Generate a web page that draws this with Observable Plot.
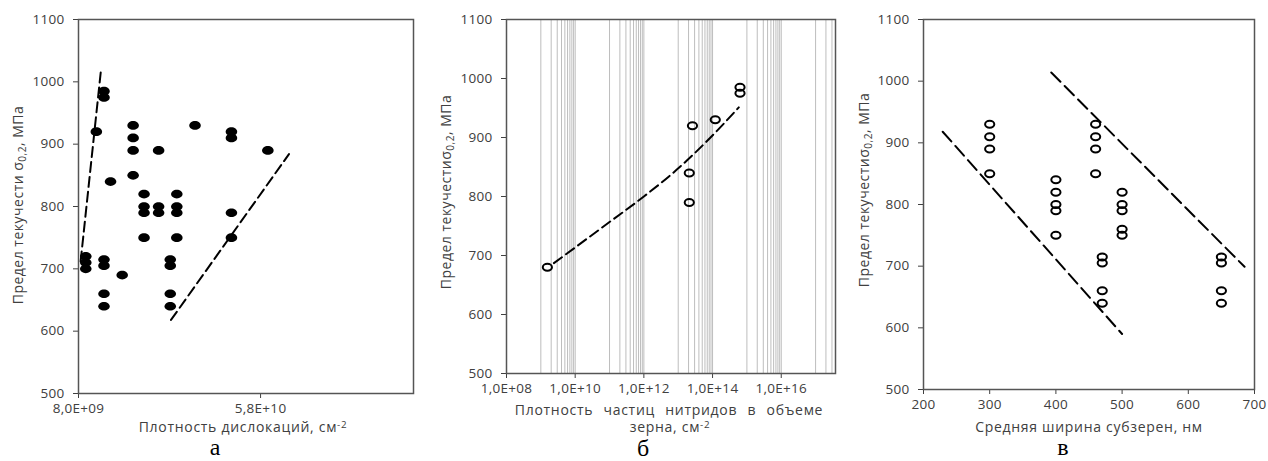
<!DOCTYPE html>
<html>
<head>
<meta charset="utf-8">
<script src="https://cdn.jsdelivr.net/npm/d3@7"></script>
<script src="https://cdn.jsdelivr.net/npm/@observablehq/plot@0.6"></script>
<style>
  html, body { margin: 0; padding: 0; background: #fff; }
  #root { position: relative; width: 1268px; height: 461px; background: #fff; overflow: hidden; }
  .panel { position: absolute; top: 0; }
  .lbl { position: absolute; white-space: nowrap; font-family: "Open Sans", sans-serif; color: #404040; line-height: 1; }
  .ylab { font-size: 14px; letter-spacing: 0.5px; transform: translate(-50%, -50%) rotate(-90deg); }
  .xlab { font-size: 14px; letter-spacing: 0.7px; transform: translate(-50%, -50%); }
  .cap { font-family: "Liberation Serif", "Times New Roman", serif; font-size: 24px; line-height: 24px; color: #000; transform: translate(-50%, 0); }
  sub { font-size: 0.72em; vertical-align: -0.3em; line-height: 0; }
  sup { font-size: 0.7em; vertical-align: 0.4em; line-height: 0; }
</style>
</head>
<body>
<div id="root"></div>
<script>
// ---- Panel а: dislocation density (cm^-2) vs yield strength σ0,2 (MPa)
const densityA = [1.0e10, 1.0e10, 1.0e10, 1.29e10, 1.5e10, 1.5e10, 1.5e10, 1.5e10, 1.5e10, 1.5e10,
  1.68e10, 2.0e10, 2.3e10, 2.3e10, 2.3e10, 2.3e10, 2.6e10, 2.6e10, 2.6e10, 2.6e10,
  3.0e10, 3.0e10, 3.0e10, 3.32e10, 3.32e10, 3.32e10, 3.32e10, 3.5e10, 3.5e10, 3.5e10, 3.5e10,
  4.0e10, 5.0e10, 5.0e10, 5.0e10, 5.0e10, 6.0e10];
const yieldA = [720, 710, 700, 920, 985, 975, 715, 705, 660, 640,
  840, 690, 930, 910, 890, 850, 820, 800, 790, 750,
  890, 800, 790, 715, 705, 660, 640, 820, 800, 790, 750,
  930, 920, 910, 790, 750, 890];
const boundA1X = [1.41e10, 8.55e9];
const boundA1Y = [1015, 710];
const boundA2X = [3.34e10, 6.58e10];
const boundA2Y = [618, 884];
const ticksAX = [8.0e9, 5.8e10];
const tickLabelsAX = ["8,0E+09", "5,8E+10"];

// ---- Panel б: nitride particle density in grain volume vs yield strength
const nitrideDensity = [1.55e9, 2.1e13, 2.1e13, 2.6e13, 1.2e14, 6.3e14, 6.3e14];
const yieldB = [680, 840, 790, 920, 930, 985, 975];
const trendBX = [2.4e9, 1.07e11, 1.0e12, 9.3e12, 6.9e13, 5.8e14];
const trendBY = [687, 758, 800, 846, 894, 951];
const ticksBX = [1e8, 1e10, 1e12, 1e14, 1e16];
const tickLabelsBX = ["1,0E+08", "1,0E+10", "1,0E+12", "1,0E+14", "1,0E+16"];
const minorExponentsB = [9, 11, 13, 15, 17];
const minorMultipliersB = [1, 2, 3, 4, 5, 6, 7, 8, 9];

// ---- Panel в: mean subgrain width (nm) vs yield strength
const subgrainWidth = [300, 300, 300, 300, 400, 400, 400, 400, 400, 460, 460, 460, 460,
  470, 470, 470, 470, 500, 500, 500, 500, 500, 650, 650, 650, 650];
const yieldC = [930, 910, 890, 850, 840, 820, 800, 790, 750, 930, 910, 890, 850,
  715, 705, 660, 640, 820, 800, 790, 760, 750, 715, 705, 660, 640];
const boundC1X = [229, 500];
const boundC1Y = [918, 590];
const boundC2X = [393, 685];
const boundC2Y = [1014, 699];
const ticksCX = [200, 300, 400, 500, 600, 700];

const ticksY = [500, 600, 700, 800, 900, 1000, 1100];

// Slightly wide ellipse marker
const ellipse = {
  draw(ctx, size) {
    const r = Math.sqrt(size / Math.PI);
    const rx = r * 1.15, ry = r * 0.87, k = 0.5523;
    ctx.moveTo(rx, 0);
    ctx.bezierCurveTo(rx, ry * k, rx * k, ry, 0, ry);
    ctx.bezierCurveTo(-rx * k, ry, -rx, ry * k, -rx, 0);
    ctx.bezierCurveTo(-rx, -ry * k, -rx * k, -ry, 0, -ry);
    ctx.bezierCurveTo(rx * k, -ry, rx, -ry * k, rx, 0);
    ctx.closePath();
  }
};

const frameColor = "#555555";
const baseStyle = {fontFamily: "'Open Sans', sans-serif", fontSize: "13.5px", letterSpacing: "0.3px", color: "#404040", background: "transparent"};
const yAxis = {domain: [500, 1100], ticks: ticksY, tickFormat: "d", tickSize: 5, tickPadding: 9, label: null};

const root = document.getElementById("root");
function place(el, left) {
  const wrap = document.createElement("div");
  wrap.className = "panel";
  wrap.style.left = left + "px";
  wrap.appendChild(el);
  root.appendChild(wrap);
}
function label(cls, x, y, html, extra) {
  const d = document.createElement("div");
  d.className = "lbl " + cls;
  d.style.left = x + "px";
  d.style.top = y + "px";
  if (extra) Object.assign(d.style, extra);
  d.innerHTML = html;
  root.appendChild(d);
}

// Panel а
const labelsA = new Map(ticksAX.map((t, i) => [t, tickLabelsAX[i]]));
place(Plot.plot({
  width: 420, height: 461,
  marginLeft: 78, marginRight: 7, marginTop: 19, marginBottom: 68,
  style: baseStyle,
  x: {domain: [8e9, 1e11], ticks: ticksAX, tickFormat: d => labelsA.get(d), tickSize: 5, tickPadding: 5, label: null},
  y: yAxis,
  marks: [
    Plot.frame({stroke: frameColor, strokeWidth: 1.5}),
    Plot.line(boundA1X, {x: boundA1X, y: boundA1Y, stroke: "#000", strokeWidth: 2, strokeDasharray: "10,5"}),
    Plot.line(boundA2X, {x: boundA2X, y: boundA2Y, stroke: "#000", strokeWidth: 2, strokeDasharray: "10,5"}),
    Plot.dot(yieldA, {x: densityA, y: yieldA, r: 5, symbol: ellipse, fill: "#000", stroke: "none"})
  ]
}), 0);

// Panel б
const labelsB = new Map(ticksBX.map((t, i) => [t, tickLabelsBX[i]]));
const domainB = [1e8, 3.8e17];
const gridB = ticksBX.concat(minorExponentsB.flatMap(e => minorMultipliersB.map(m => m * Math.pow(10, e))))
  .filter(v => v > domainB[0] && v < domainB[1]);
place(Plot.plot({
  width: 420, height: 461,
  marginLeft: 86, marginRight: 5, marginTop: 19, marginBottom: 88,
  style: baseStyle,
  x: {type: "log", domain: domainB, ticks: ticksBX, tickFormat: d => labelsB.get(d), tickSize: 5, tickPadding: 5, label: null},
  y: yAxis,
  marks: [
    Plot.ruleX(gridB, {stroke: "#bdbdbd", strokeWidth: 1}),
    Plot.frame({stroke: frameColor, strokeWidth: 1.5}),
    Plot.line(trendBX, {x: trendBX, y: trendBY, curve: "monotone-x", stroke: "#000", strokeWidth: 2, strokeDasharray: "10,5"}),
    Plot.dot(yieldB, {x: nitrideDensity, y: yieldB, r: 4, symbol: ellipse, fill: "none", stroke: "#000", strokeWidth: 2})
  ]
}), 420);

// Panel в
place(Plot.plot({
  width: 428, height: 461,
  marginLeft: 83, marginRight: 14, marginTop: 19, marginBottom: 72,
  style: baseStyle,
  x: {domain: [200, 700], ticks: ticksCX, tickFormat: "d", tickSize: 5, tickPadding: 5, label: null},
  y: yAxis,
  marks: [
    Plot.frame({stroke: frameColor, strokeWidth: 1.5}),
    Plot.line(boundC1X, {x: boundC1X, y: boundC1Y, stroke: "#000", strokeWidth: 2, strokeDasharray: "13,6"}),
    Plot.line(boundC2X, {x: boundC2X, y: boundC2Y, stroke: "#000", strokeWidth: 2, strokeDasharray: "13,6"}),
    Plot.dot(yieldC, {x: subgrainWidth, y: yieldC, r: 4, symbol: ellipse, fill: "none", stroke: "#000", strokeWidth: 2})
  ]
}), 840);

// Axis titles and panel letters
label("ylab", 18, 205, "Предел текучести σ<sub>0,2</sub>, МПа");
label("ylab", 446, 192, "Предел текучестиσ<sub>0,2</sub>, МПа");
label("ylab", 864, 190, "Предел текучестиσ<sub>0,2</sub>, МПа");
label("xlab", 243, 427, "Плотность дислокаций, см<sup>-2</sup>");
label("xlab", 669, 410, "Плотность частиц нитридов в объеме", {wordSpacing: "6px"});
label("xlab", 670, 427, "зерна, см<sup>-2</sup>");
label("xlab", 1089, 427, "Средняя ширина субзерен, нм");
label("cap", 215, 435, "а");
label("cap", 643, 436, "б");
label("cap", 1063, 435, "в");
</script>
</body>
</html>
